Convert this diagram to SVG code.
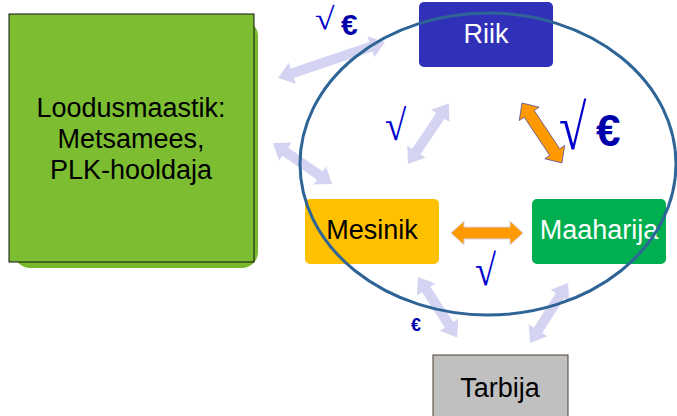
<svg xmlns="http://www.w3.org/2000/svg" width="677" height="416" viewBox="0 0 677 416">
<style>
.t{font-family:"Liberation Sans",Arial,sans-serif;font-size:27px;text-anchor:middle}
.la{fill:#D4D4F2}
.or{fill:#FF9900}
.sym{font-family:"Liberation Serif","Times New Roman",serif;fill:#0000CC}
.eu{font-family:"Liberation Sans",Arial,sans-serif;font-weight:bold;fill:#0000AA}
</style>
<rect width="677" height="416" fill="#fff"/>
<g id="connectors">
<polygon class="la" transform="translate(278,78) rotate(-18.6)" points="0,0 15,-11 15,-5 98,-5 98,-11 113,0 98,11 98,5 15,5 15,11"/>
<polygon class="la" transform="translate(273,143) rotate(34.8)" points="0,0 15,-11 15,-5 57,-5 57,-11 72,0 57,11 57,5 15,5 15,11"/>
<polygon class="la" transform="translate(408,164) rotate(-56.1)" points="0,0 15,-11 15,-5 58,-5 58,-11 73,0 58,11 58,5 15,5 15,11"/>
<polygon class="or" stroke="#3333AA" stroke-width="0.6" transform="translate(522,103) rotate(56.3)" points="0,0 13,-12 13,-6 59,-6 59,-12 72,0 59,12 59,6 13,6 13,12"/>
<polygon class="or" stroke="#D4D4F2" stroke-width="1" transform="translate(451,233)" points="0,0 13,-12 13,-6 59,-6 59,-12 72,0 59,12 59,6 13,6 13,12"/>
<polygon class="la" transform="translate(418,277) rotate(57)" points="0,0 15,-11 15,-5 57,-5 57,-11 72,0 57,11 57,5 15,5 15,11"/>
<polygon class="la" transform="translate(568,283) rotate(122.3)" points="0,0 15,-11 15,-5 56,-5 56,-11 71,0 56,11 56,5 15,5 15,11"/>
</g>
<g id="loodus">
<rect x="14" y="20" width="244" height="248" rx="16" fill="#78B82C"/>
<rect x="9" y="14" width="245" height="248" fill="#7CBD32" stroke="#111" stroke-width="1"/>
<text class="t" x="131" y="117">Loodusmaastik:</text>
<text class="t" x="131" y="148">Metsamees,</text>
<text class="t" x="131" y="179">PLK-hooldaja</text>
</g>
<g id="riik">
<rect x="419" y="2" width="134" height="65" rx="5" fill="#3030B8"/>
<text class="t" x="486" y="43" fill="#fff">Riik</text>
</g>
<g id="mesinik">
<rect x="305" y="199" width="134" height="65" rx="5" fill="#FFC000"/>
<text class="t" x="372" y="239" fill="#000">Mesinik</text>
</g>
<g id="maaharija">
<rect x="532" y="199" width="134" height="65" rx="5" fill="#00B050"/>
<text class="t" x="599" y="239" fill="#fff">Maaharija</text>
</g>
<g id="tarbija">
<rect x="433" y="355" width="135" height="70" fill="#C0C0C0" stroke="#4A3F2A" stroke-width="1"/>
<text class="t" x="500" y="397" fill="#000">Tarbija</text>
</g>
<ellipse cx="488" cy="164" rx="188" ry="151" fill="none" stroke="#2E6596" stroke-width="3"/>
<g id="labels">
<text class="sym" transform="translate(315,29) scale(1.15,1)" font-size="31">√</text>
<text class="eu" x="341" y="35" font-size="30">€</text>
<text class="sym" transform="translate(385,140) scale(0.9,1)" font-size="43">√</text>
<text class="sym" transform="translate(559,149) scale(0.78,1)" font-size="64">√</text>
<text class="eu" x="596" y="146" font-size="44">€</text>
<text class="sym" transform="translate(475,285) scale(0.87,1)" font-size="44">√</text>
<text class="eu" x="411" y="331" font-size="18">€</text>
</g>
</svg>
